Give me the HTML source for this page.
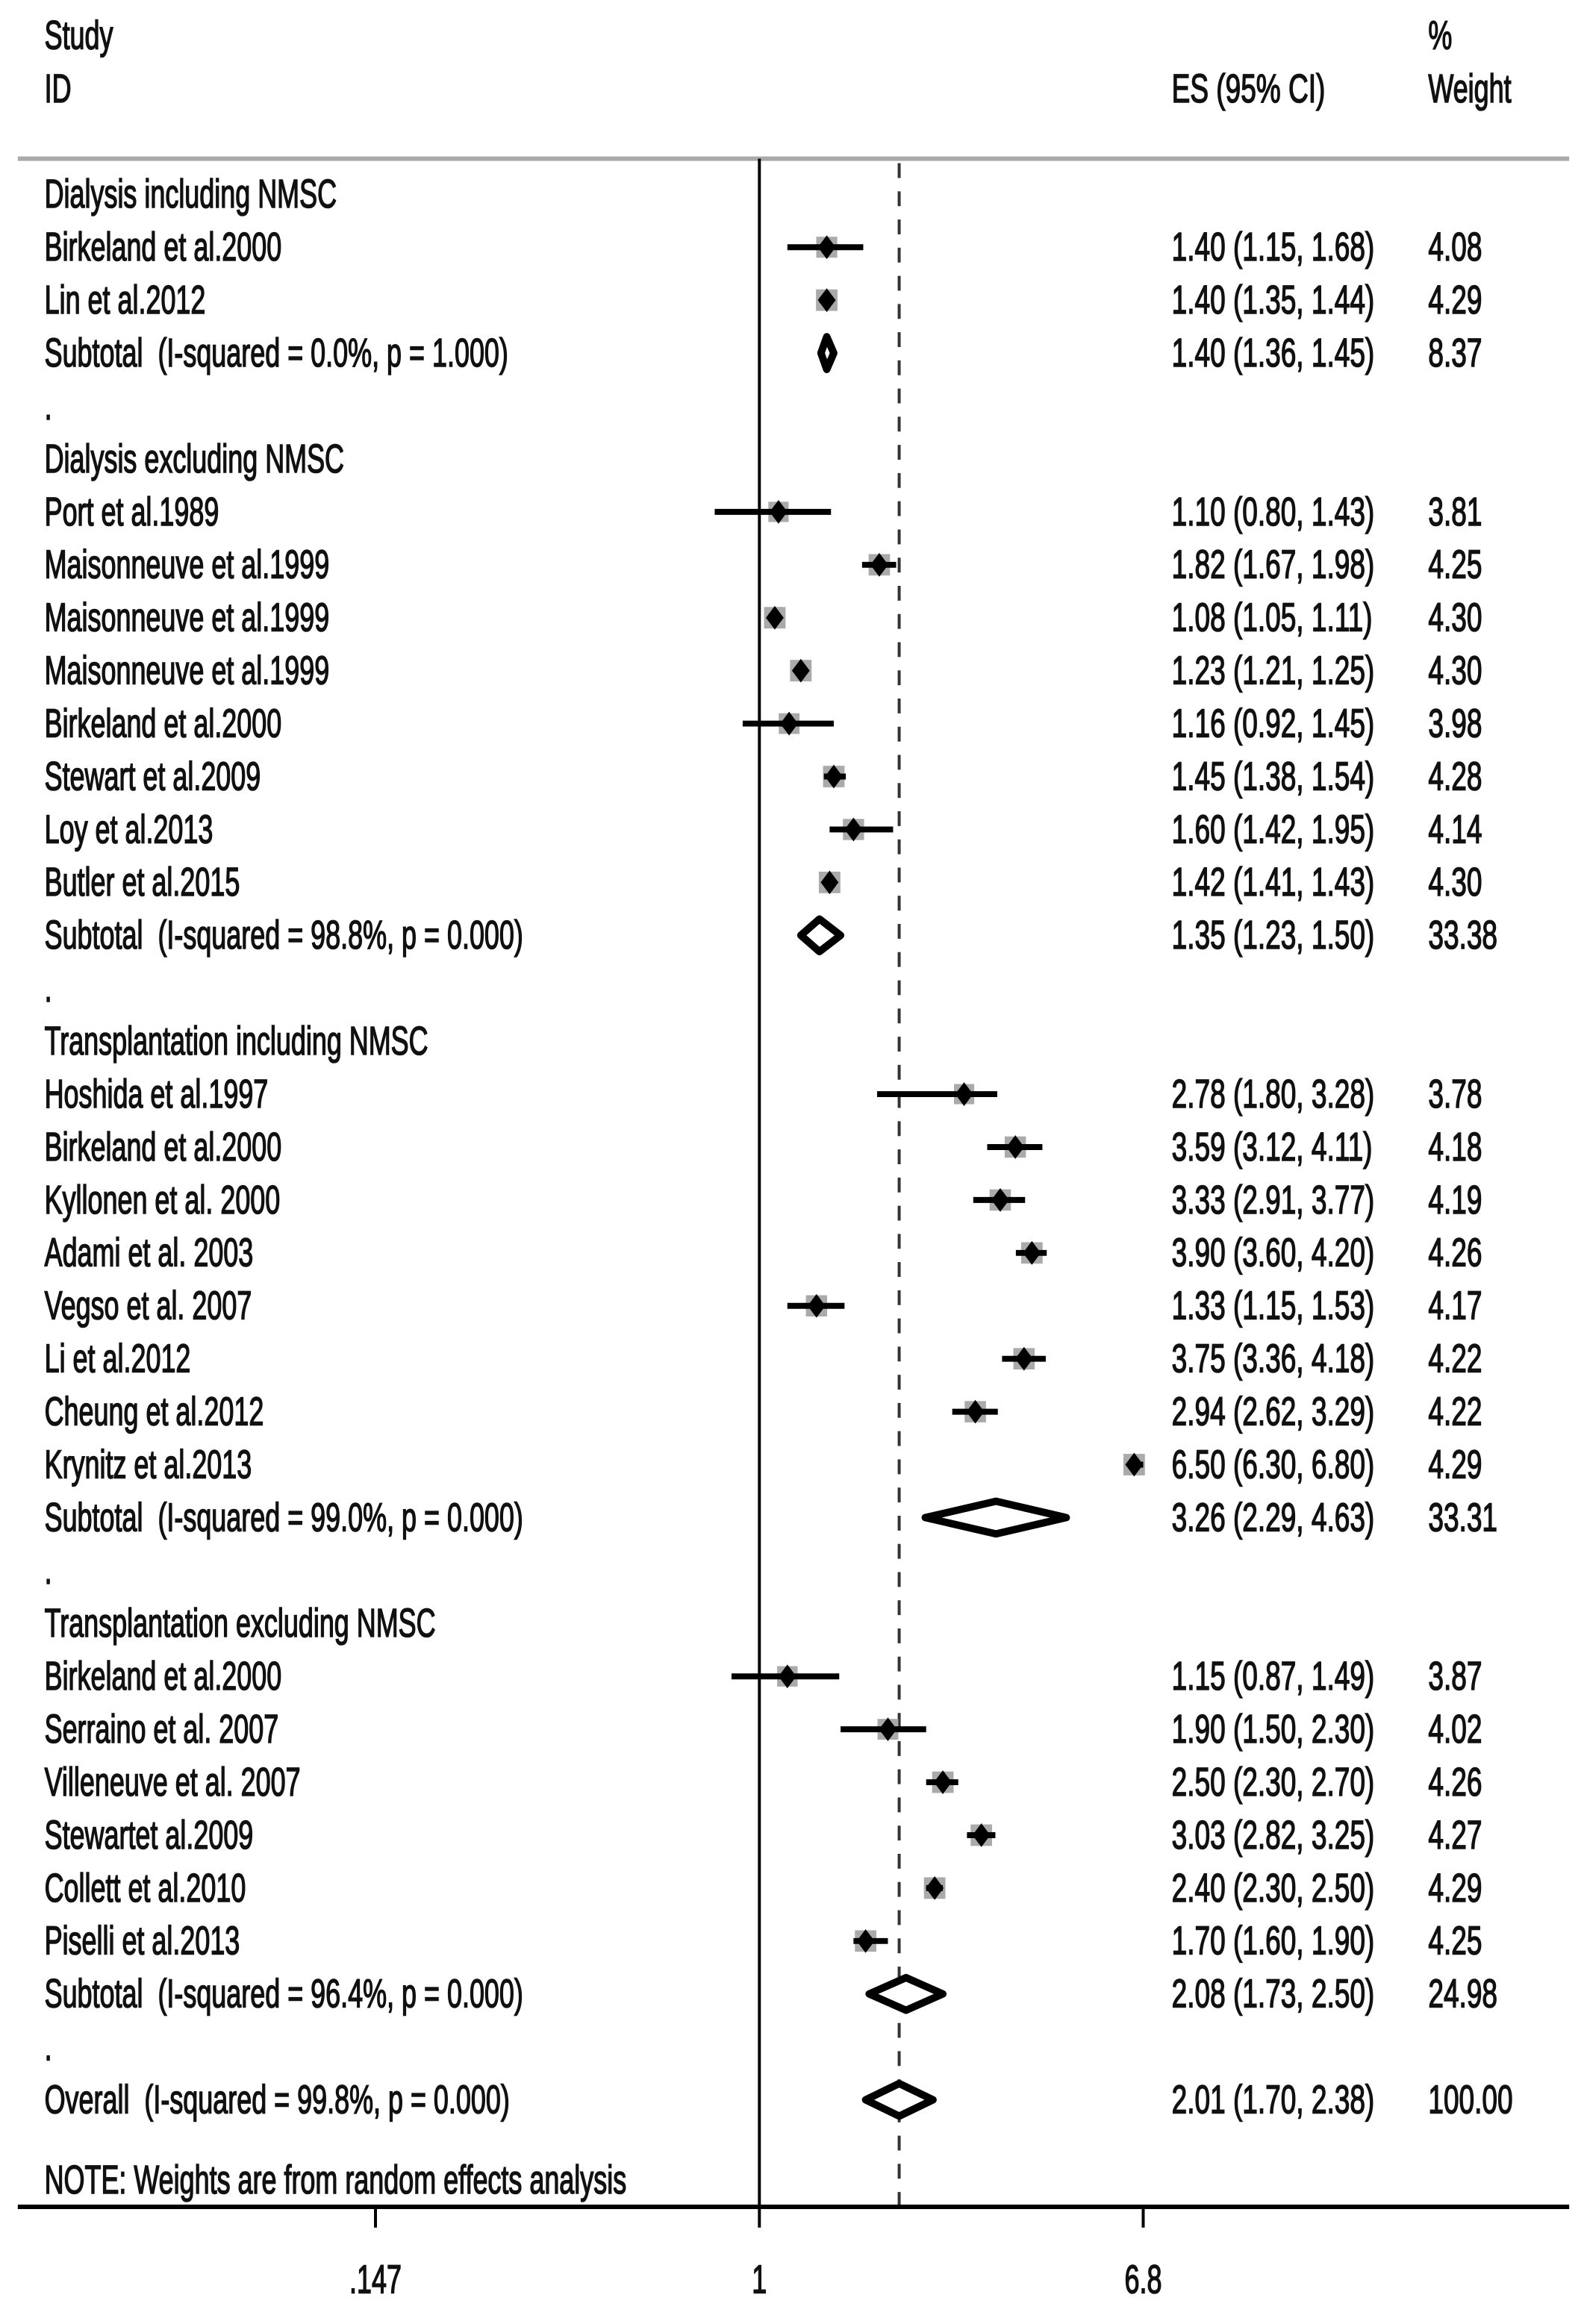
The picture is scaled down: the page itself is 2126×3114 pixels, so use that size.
<!DOCTYPE html>
<html><head><meta charset="utf-8"><style>
html,body{margin:0;padding:0;background:#fff;}
svg{display:block;}
text{font-family:"Liberation Sans",sans-serif;font-size:27px;fill:#111;stroke:#111;stroke-width:0.8;white-space:pre;}
</style></head><body>
<svg id="chart" width="2126" height="3114" viewBox="0 0 1070 1567" preserveAspectRatio="none" xmlns="http://www.w3.org/2000/svg"></svg>
<script>
// row kinds: h=group header, s=study, t=subtotal, d=dot spacer, o=overall
const rowKinds = ["h","s","s","t","d","h","s","s","s","s","s","s","s","s","t","d","h","s","s","s","s","s","s","s","s","t","d","h","s","s","s","s","s","s","t","d","o"];
const rowLabels = ["Dialysis including NMSC","Birkeland et al.2000","Lin et al.2012","Subtotal  (I-squared = 0.0%, p = 1.000)",".",
"Dialysis excluding NMSC","Port et al.1989","Maisonneuve et al.1999","Maisonneuve et al.1999","Maisonneuve et al.1999","Birkeland et al.2000","Stewart et al.2009","Loy et al.2013","Butler et al.2015","Subtotal  (I-squared = 98.8%, p = 0.000)",".",
"Transplantation including NMSC","Hoshida et al.1997","Birkeland et al.2000","Kyllonen et al. 2000","Adami et al. 2003","Vegso et al. 2007","Li et al.2012","Cheung et al.2012","Krynitz et al.2013","Subtotal  (I-squared = 99.0%, p = 0.000)",".",
"Transplantation excluding NMSC","Birkeland et al.2000","Serraino et al. 2007","Villeneuve et al. 2007","Stewartet al.2009","Collett et al.2010","Piselli et al.2013","Subtotal  (I-squared = 96.4%, p = 0.000)",".",
"Overall  (I-squared = 99.8%, p = 0.000)"];
const esValues = [null,1.40,1.40,1.40,null,null,1.10,1.82,1.08,1.23,1.16,1.45,1.60,1.42,1.35,null,null,2.78,3.59,3.33,3.90,1.33,3.75,2.94,6.50,3.26,null,null,1.15,1.90,2.50,3.03,2.40,1.70,2.08,null,2.01];
const ciLow = [null,1.15,1.35,1.36,null,null,0.80,1.67,1.05,1.21,0.92,1.38,1.42,1.41,1.23,null,null,1.80,3.12,2.91,3.60,1.15,3.36,2.62,6.30,2.29,null,null,0.87,1.50,2.30,2.82,2.30,1.60,1.73,null,1.70];
const ciHigh = [null,1.68,1.44,1.45,null,null,1.43,1.98,1.11,1.25,1.45,1.54,1.95,1.43,1.50,null,null,3.28,4.11,3.77,4.20,1.53,4.18,3.29,6.80,4.63,null,null,1.49,2.30,2.70,3.25,2.50,1.90,2.50,null,2.38];
const weights = [null,4.08,4.29,8.37,null,null,3.81,4.25,4.30,4.30,3.98,4.28,4.14,4.30,33.38,null,null,3.78,4.18,4.19,4.26,4.17,4.22,4.22,4.29,33.31,null,null,3.87,4.02,4.26,4.27,4.29,4.25,24.98,null,100.00];
const tickValues = [0.147,1,6.8];
const tickLabels = [".147","1","6.8"];

const NS="http://www.w3.org/2000/svg";
const svg=document.getElementById('chart');
const X0=512, PX=135;
function xs(v){return X0+Math.log(v)*PX;}
function ys(i){return 131+i*35.69;}
function mk(tag,attrs,parent){const e=document.createElementNS(NS,tag);for(const k in attrs)e.setAttribute(k,attrs[k]);(parent||svg).appendChild(e);return e;}
function txt(x,y,s,anchor,sc){
  const g=mk('g',{transform:'translate('+x+','+y+') scale('+(sc||0.67)+',1)'});
  const t=mk('text',{x:0,y:0,'text-anchor':anchor||'start'},g);
  t.textContent=s;return t;
}
function f2(v){return v.toFixed(2);}

let t;
t=txt(30,33,"Study");
t=txt(30,69,"ID");
t=txt(790,69,"ES (95% CI)",null,0.69);
t=txt(963,33,"%");
t=txt(963,69,"Weight");
let ln=mk('line',{x1:12,y1:107,x2:1058,y2:107,stroke:'#aaa','stroke-width':3});


const overallIdx=rowKinds.indexOf('o');
ln=mk('line',{x1:X0,y1:107,x2:X0,y2:1488,stroke:'#000','stroke-width':2});

ln=mk('line',{x1:xs(esValues[overallIdx]),y1:110,x2:xs(esValues[overallIdx]),y2:1488,stroke:'#333','stroke-width':2,'stroke-dasharray':'10 9'});


rowKinds.forEach((k,i)=>{
  const y=ys(i);
  const lab=txt(30,y+9,rowLabels[i]);
  
  
  if(esValues[i]==null) return;
  const e=esValues[i],lo=ciLow[i],hi=ciHigh[i],w=weights[i];
  const es=txt(790,y+9,f2(e)+" ("+f2(lo)+", "+f2(hi)+")",null,0.69);
  
  
  const wt=txt(963,y+9,w.toFixed(2),null,0.69);
  
  
  if(k==='s'){
    const s=Math.sqrt(w)*7;
    const sq=mk('rect',{x:xs(e)-s/2,y:y-s/2,width:s,height:s,fill:'#aaa'});
    
    
    const ci=mk('line',{x1:xs(lo),y1:y,x2:xs(hi),y2:y,stroke:'#000','stroke-width':4});
    
    
    const d=mk('polygon',{points:[xs(e)-6,y, xs(e),y-8, xs(e)+6,y, xs(e),y+8].join(' '),fill:'#000'});
    
    
  } else {
    const dm=mk('polygon',{points:[xs(lo),y, xs(e),y-11, xs(hi),y, xs(e),y+11].join(' '),fill:'#fff',stroke:'#000','stroke-width':5,'stroke-linejoin':'round'});
    
    
  }
});
t=txt(30,1479,"NOTE: Weights are from random effects analysis");


ln=mk('line',{x1:12,y1:1488,x2:1058,y2:1488,stroke:'#000','stroke-width':3});

tickValues.forEach((v,i)=>{
  const tk=mk('line',{x1:xs(v),y1:1488,x2:xs(v),y2:1502,stroke:'#000','stroke-width':2});
  
  
  const tl=txt(xs(v),1546,tickLabels[i],'middle');
  
  
});
</script>
</body></html>
